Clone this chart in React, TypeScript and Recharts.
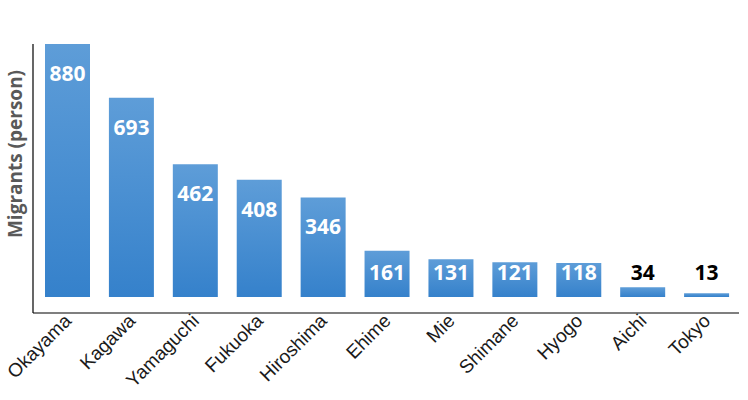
import React from 'react';
import { BarChart, Bar, XAxis, YAxis, LabelList } from 'recharts';

const prefectures = ['Okayama', 'Kagawa', 'Yamaguchi', 'Fukuoka', 'Hiroshima', 'Ehime', 'Mie', 'Shimane', 'Hyogo', 'Aichi', 'Tokyo'];
const migrants = [880, 693, 462, 408, 346, 161, 131, 121, 118, 34, 13];

const data = prefectures.map((name, i) => ({ name, value: migrants[i] }));

const XTick = (props: any) => {
  const { x, y, payload } = props;
  const tx = x + 4.5;
  const ty = y + 9;
  return (
    <text
      x={tx}
      y={ty}
      transform={`rotate(-45 ${tx} ${ty})`}
      textAnchor="end"
      fontFamily="Liberation Sans, Arial, sans-serif"
      fontSize={19}
      fill="#1a1a1a"
    >
      {payload.value}
    </text>
  );
};

const ValueLabel = (props: any) => {
  const { x, y, width, value } = props;
  const cy = Math.min(y + 29, 272);
  const inside = cy > y + 6;
  return (
    <text
      x={x + width / 2}
      y={cy}
      textAnchor="middle"
      dominantBaseline="central"
      fontFamily="Open Sans, sans-serif"
      fontWeight={700}
      fontSize={21}
      fill={inside ? '#ffffff' : '#000000'}
    >
      {value}
    </text>
  );
};

const AxisTitle = () => (
  <text
    x={15}
    y={154}
    transform="rotate(-90 15 154)"
    textAnchor="middle"
    dominantBaseline="central"
    fontFamily="Open Sans, sans-serif"
    fontWeight={700}
    fontSize={19}
    fill="#595959"
  >
    Migrants (person)
  </text>
);

export default function App() {
  return (
    <div style={{ position: 'absolute', left: 0, top: 0, width: 748, height: 400, background: '#fff' }}>
      <BarChart width={748} height={400} data={data} margin={{ top: 44, right: 9, left: 0, bottom: 7 }}>
        <defs>
          <linearGradient id="barFill" x1="0" y1="0" x2="0" y2="1">
            <stop offset="0%" stopColor="#5e9dd8" />
            <stop offset="100%" stopColor="#3581cb" />
          </linearGradient>
        </defs>
        <XAxis
          dataKey="name"
          height={80}
          interval={0}
          tickLine={false}
          tickSize={0}
          tickMargin={0}
          padding={{ left: 3, right: 0 }}
          axisLine={{ stroke: '#000', strokeWidth: 1.2 }}
          tick={<XTick />}
        />
        <YAxis
          width={33}
          domain={[-56, 880]}
          allowDataOverflow
          tick={false}
          tickLine={false}
          axisLine={{ stroke: '#000', strokeWidth: 1.2 }}
          label={{ content: <AxisTitle /> }}
        />
        <Bar dataKey="value" fill="url(#barFill)" barSize={45} isAnimationActive={false}>
          <LabelList dataKey="value" content={<ValueLabel />} />
        </Bar>
      </BarChart>
    </div>
  );
}
